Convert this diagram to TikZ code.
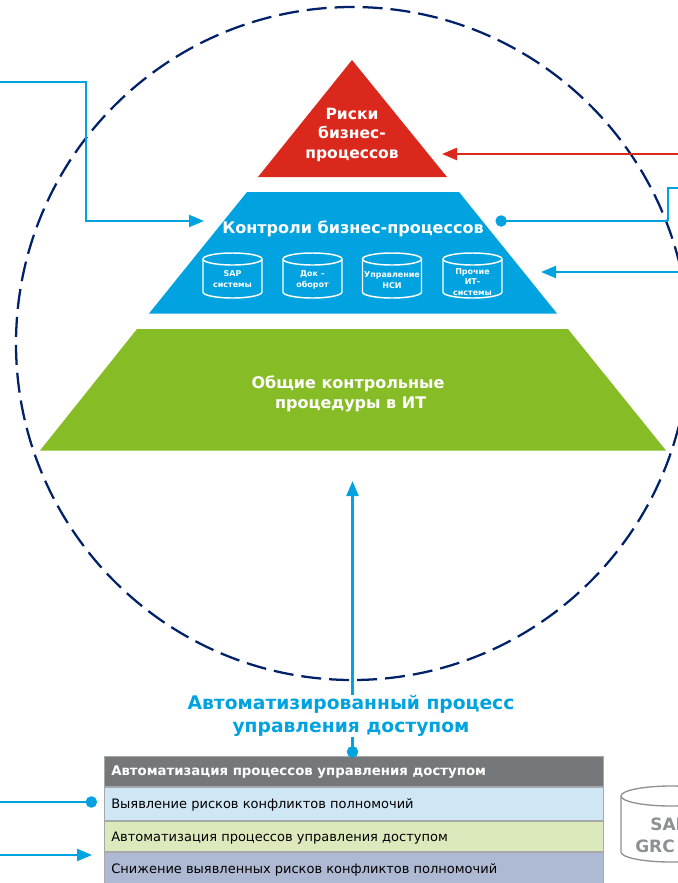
\documentclass[tikz,border=0pt]{standalone}
\usepackage{fontspec}
\setmainfont{DejaVu Sans}
\usetikzlibrary{arrows.meta}
\definecolor{cblue}{HTML}{00A3E0}
\definecolor{cred}{HTML}{DA291C}
\definecolor{cgreen}{HTML}{86BC25}
\definecolor{cnavy}{HTML}{012169}
\definecolor{cgrey}{HTML}{75787B}
\definecolor{cline}{HTML}{A7A8AA}
\definecolor{cgrc}{HTML}{8E9093}
\definecolor{rowa}{HTML}{CFE6F5}
\definecolor{rowb}{HTML}{DCE9BC}
\definecolor{rowc}{HTML}{AEB9D3}
\newcommand{\fsz}[2]{\fontsize{\dimexpr#1pt*3/4\relax}{\dimexpr#2pt*3/4\relax}\selectfont}
\tikzset{
  x=0.75pt,y=-0.75pt,
  link/.style={draw=cblue,line width=1.75pt,line join=miter},
  redlink/.style={draw=cred,line width=1.75pt},
  tip/.style={-{Triangle[length=11.25pt,width=9pt]}},
  dotend/.style={-{Circle[length=8.5pt,width=8.5pt]}},
  layer/.style={inner sep=0pt,text=white,font=\bfseries,align=center},
  cyltext/.style={inner sep=0pt,text=white,font=\bfseries\fsz{8}{10.5},align=center},
  cylline/.style={draw=white,line width=1.1pt},
  rowbox/.style={draw=cline,line width=1pt,minimum width=374.25pt,inner sep=0pt,anchor=north west},
  rowtext/.style={inner sep=0pt,anchor=west,text=black,font=\fsz{13}{15}},
  grcline/.style={draw=cgrc,line width=1pt},
  grctext/.style={inner sep=0pt,anchor=west,text=cgrc,font=\bfseries\fsz{17}{20}},
}
\newcommand{\cyl}[4]{%
  \draw[cylline] (#1-29.5,259) -- (#1-29.5,292) arc[start angle=180,end angle=0,x radius=29.5,y radius=6] -- (#1+29.5,259);
  \draw[cylline] (#1,259) ellipse[x radius=29.5,y radius=6];
  \node[cyltext] (#2) at (#1,#3) {#4};
}
\begin{document}
\begin{tikzpicture}
\useasboundingbox (0,0) rectangle (678,883);
\clip (0,0) rectangle (678,883);
% circle
\draw[cnavy,line width=1.7pt,dash pattern=on 15pt off 6pt] (352.5,343.5) circle[radius=336.5];
% pyramid
\fill[cred] (352,60) -- (447,177) -- (258,177) -- cycle;
\fill[cblue] (247,192) -- (459,192) -- (557,313.5) -- (149,313.5) -- cycle;
\fill[cgreen] (137,329) -- (568,329) -- (666,450.5) -- (40,450.5) -- cycle;
\node[layer,font=\bfseries\fsz{15.5}{19.5}] (risks) at (352,134.5) {Риски\\бизнес-\\процессов};
\node[layer,font=\bfseries\fsz{16}{19}] (controls) at (353,229) {Контроли бизнес-процессов};
\node[layer,font=\bfseries\fsz{16}{20}] (general) at (348,394) {Общие контрольные\\\hspace*{4pt}процедуры в ИТ};
\cyl{232.5}{c1}{279}{SAP\\системы}
\cyl{312.5}{c2}{280}{Док –\\оборот}
\cyl{392}{c3}{280}{Управление\\НСИ}
\cyl{472.5}{c4}{282}{Прочие\\ИТ-\\системы}
% table
\node[rowbox,fill=cgrey,minimum height=22.5pt] (head) at (103.5,756) {};
\node[rowbox,fill=rowa,minimum height=25pt] (r1) at (103.5,787) {};
\node[rowbox,fill=rowb,minimum height=22.5pt] (r2) at (103.5,821) {};
\node[rowbox,fill=rowc,minimum height=23pt] (r3) at (103.5,852) {};
\node[rowtext,text=white,font=\bfseries\fsz{13.3}{15}] (headt) at (111,772) {Автоматизация процессов управления доступом};
\node[rowtext] (r1t) at (111,805) {Выявление рисков конфликтов полномочий};
\node[rowtext] (r2t) at (111,838) {Автоматизация процессов управления доступом};
\node[rowtext] (r3t) at (111,870) {Снижение выявленных рисков конфликтов полномочий};
% label
\node[inner sep=0pt,text=cblue,align=center,font=\bfseries\fsz{18.7}{23}] (label) at (351,716) {Автоматизированный процесс\\управления доступом};
% GRC
\draw[grcline] (621,796) -- (621,852) arc[start angle=180,end angle=0,x radius=50,y radius=10] -- (721,796);
\draw[grcline] (671,796) ellipse[x radius=50,y radius=10];
\node[grctext] (sap) at (650,824) {SAP};
\node[grctext] (grc) at (635,846) {GRC};
% connectors
\coordinate (inA) at (0,82);
\coordinate (inAb) at (86,82);
\coordinate (inAc) at (86,221);
\coordinate (inAe) at (204,221);
\draw[link,tip] (inA) -- (inAb) -- (inAc) -- (inAe);
\coordinate (redS) at (678,154);
\coordinate (redE) at (442,154);
\draw[redlink,tip] (redS) -- (redE);
\coordinate (dotA) at (495.5,221);
\coordinate (jn) at (668,221);
\coordinate (jnU) at (668,188);
\coordinate (jnR) at (678,188);
\draw[link,dotend] (jn) -- (dotA);
\draw[link] (jn) -- (jnU) -- (jnR);
\coordinate (inB) at (678,272);
\coordinate (inBe) at (541,272);
\draw[link,tip] (inB) -- (inBe);
\coordinate (upE) at (352.5,481);
\draw[link,tip] (label.north -| upE) -- (upE);
\coordinate (stubE) at (352.5,757.5);
\draw[link,dotend] (label.south -| stubE) -- (stubE);
\coordinate (leftA) at (0,802);
\coordinate (leftAe) at (97,802);
\draw[link,dotend] (leftA) -- (leftAe);
\coordinate (leftB) at (0,855);
\coordinate (leftBe) at (92,855);
\draw[link,tip] (leftB) -- (leftBe);
\end{tikzpicture}
\end{document}
